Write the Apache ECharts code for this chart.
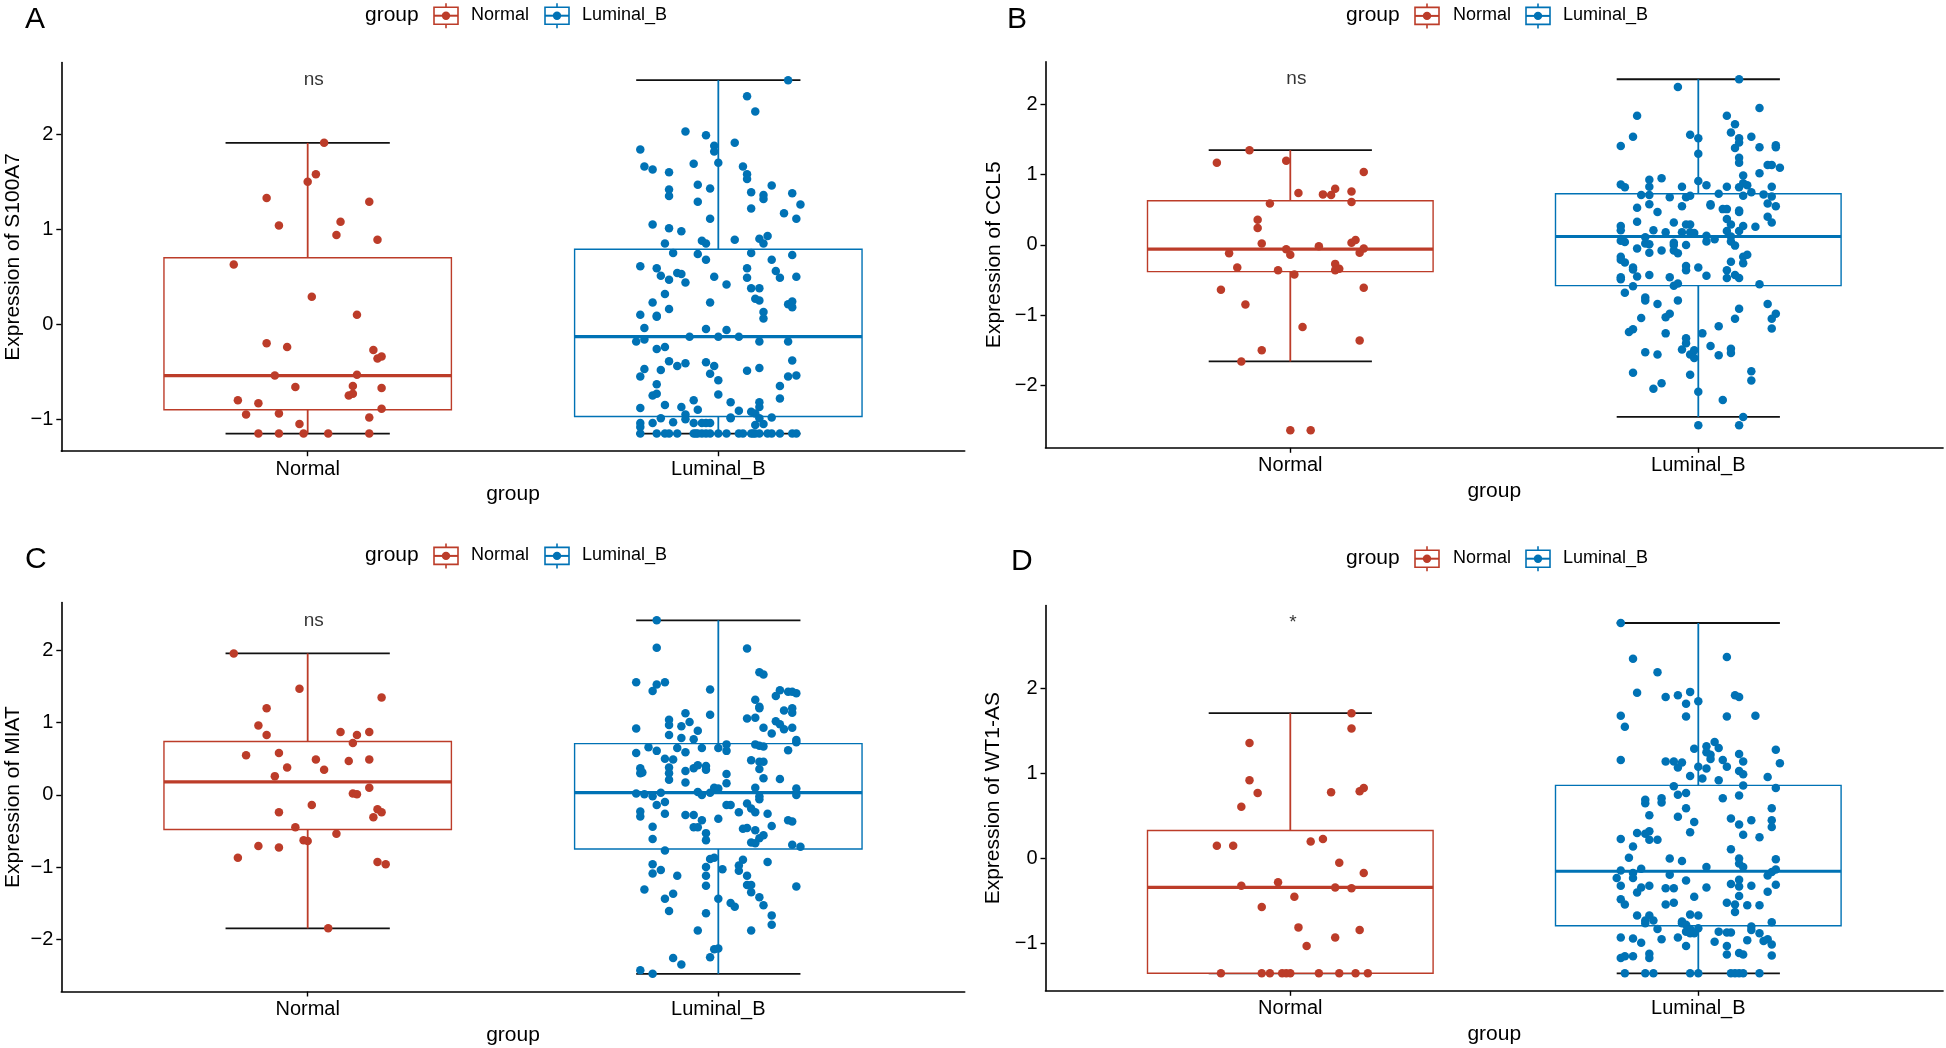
<!DOCTYPE html>
<html>
<head>
<meta charset="utf-8">
<script src="https://cdn.jsdelivr.net/npm/echarts@6/dist/echarts.min.js"></script>
<style>
html,body{margin:0;padding:0;background:#fff;}
#chart{width:1946px;height:1048px;}
</style>
</head>
<body>
<div id="chart"></div>
<script>
// ---------------- DATA ----------------
const groups = ['Normal', 'Luminal_B'];
const groupColors = ['#BC3C29', '#0072B5'];

// box stats: [lower whisker, Q1, median, Q3, upper whisker]
const s100a7BoxNormal = [-1.15, -0.90, -0.54, 0.70, 1.91];
const s100a7BoxLuminal = [-1.15, -0.97, -0.13, 0.79, 2.57];
const ccl5BoxNormal = [-1.66, -0.38, -0.06, 0.63, 1.35];
const ccl5BoxLuminal = [-2.45, -0.58, 0.12, 0.73, 2.36];
const miatBoxNormal = [-1.85, -0.48, 0.18, 0.74, 1.96];
const miatBoxLuminal = [-2.48, -0.75, 0.03, 0.71, 2.42];
const wt1asBoxNormal = [-1.35, -1.35, -0.34, 0.33, 1.71];
const wt1asBoxLuminal = [-1.35, -0.79, -0.15, 0.86, 2.77];

// jittered points: [jitter offset from group position, expression]
const s100a7Normal = [[0.04,1.91],[0.02,1.58],[0.00,1.50],[-0.10,1.33],[0.15,1.29],[-0.07,1.04],[0.08,1.08],[0.07,0.94],[0.17,0.89],[-0.18,0.63],[0.01,0.29],[0.12,0.10],[-0.10,-0.20],[-0.05,-0.24],[0.16,-0.27],[0.17,-0.36],[0.18,-0.34],[-0.08,-0.54],[0.12,-0.53],[-0.03,-0.66],[0.11,-0.65],[0.18,-0.67],[0.10,-0.75],[0.11,-0.73],[-0.17,-0.80],[-0.12,-0.83],[-0.15,-0.95],[-0.07,-0.94],[0.18,-0.89],[0.15,-0.98],[-0.02,-1.05],[-0.12,-1.15],[-0.07,-1.15],[-0.01,-1.15],[0.05,-1.15],[0.15,-1.15]];
const s100a7Luminal = [[0.17,2.57],[0.07,2.40],[0.09,2.24],[-0.08,2.03],[-0.03,1.99],[0.04,1.91],[-0.01,1.88],[-0.01,1.82],[-0.19,1.84],[0.00,1.70],[-0.06,1.69],[-0.18,1.66],[-0.16,1.63],[0.06,1.66],[-0.12,1.60],[0.07,1.58],[0.07,1.53],[-0.05,1.47],[-0.02,1.43],[0.13,1.46],[-0.12,1.42],[-0.12,1.35],[0.08,1.39],[0.11,1.36],[0.11,1.32],[0.18,1.38],[0.20,1.26],[-0.05,1.29],[0.08,1.22],[0.16,1.17],[0.19,1.11],[-0.02,1.11],[-0.16,1.05],[-0.12,1.01],[-0.09,0.98],[0.04,0.89],[0.10,0.90],[0.12,0.93],[0.11,0.85],[-0.13,0.85],[-0.04,0.88],[-0.03,0.85],[-0.11,0.75],[-0.05,0.74],[0.08,0.75],[0.18,0.73],[-0.03,0.68],[0.13,0.68],[-0.19,0.61],[-0.15,0.59],[-0.14,0.51],[-0.10,0.54],[-0.09,0.53],[-0.12,0.47],[-0.08,0.44],[0.07,0.59],[0.07,0.49],[0.14,0.56],[0.15,0.49],[0.19,0.50],[-0.01,0.50],[0.02,0.42],[0.08,0.38],[0.10,0.38],[-0.13,0.32],[0.09,0.27],[0.10,0.25],[-0.16,0.23],[-0.02,0.23],[0.17,0.21],[0.18,0.24],[0.18,0.18],[-0.19,0.10],[-0.15,0.08],[-0.15,0.09],[-0.12,0.16],[0.11,0.13],[0.11,0.06],[-0.18,-0.04],[-0.03,-0.05],[0.02,-0.06],[-0.20,-0.18],[-0.18,-0.16],[-0.07,-0.13],[0.00,-0.13],[0.05,-0.13],[0.10,-0.18],[0.17,-0.18],[-0.15,-0.26],[-0.13,-0.24],[-0.12,-0.39],[-0.08,-0.41],[-0.10,-0.44],[-0.18,-0.47],[-0.14,-0.48],[-0.03,-0.40],[-0.01,-0.44],[-0.02,-0.52],[0.07,-0.49],[0.10,-0.46],[0.18,-0.38],[-0.19,-0.55],[-0.15,-0.63],[0.00,-0.59],[0.17,-0.55],[0.19,-0.54],[0.15,-0.65],[-0.16,-0.75],[-0.15,-0.73],[0.00,-0.74],[0.15,-0.78],[-0.06,-0.80],[0.03,-0.82],[-0.13,-0.85],[0.10,-0.82],[0.10,-0.87],[-0.19,-0.88],[-0.09,-0.87],[-0.05,-0.90],[0.05,-0.91],[0.08,-0.92],[-0.08,-0.95],[-0.08,-1.00],[-0.14,-0.99],[0.03,-0.98],[0.03,-0.99],[0.09,-0.94],[0.10,-0.99],[0.13,-0.98],[-0.16,-1.04],[-0.11,-1.03],[-0.06,-1.04],[-0.04,-1.04],[-0.03,-1.04],[-0.02,-1.04],[-0.19,-1.04],[-0.19,-1.08],[0.09,-1.06],[0.11,-1.05],[-0.19,-1.15],[-0.15,-1.15],[-0.13,-1.15],[-0.12,-1.15],[-0.10,-1.15],[-0.06,-1.15],[-0.055,-1.15],[-0.05,-1.15],[-0.04,-1.15],[-0.03,-1.15],[-0.02,-1.15],[0.00,-1.15],[0.02,-1.15],[0.05,-1.15],[0.06,-1.15],[0.08,-1.15],[0.085,-1.15],[0.09,-1.15],[0.10,-1.15],[0.12,-1.15],[0.13,-1.15],[0.15,-1.15],[0.18,-1.15],[0.19,-1.15]];

const ccl5Normal = [[-0.10,1.35],[-0.18,1.17],[-0.01,1.20],[0.18,1.04],[0.02,0.74],[0.11,0.80],[0.08,0.72],[0.10,0.71],[0.15,0.76],[-0.05,0.59],[0.15,0.61],[-0.08,0.36],[-0.08,0.24],[-0.07,0.02],[-0.01,-0.06],[0.00,-0.14],[0.07,-0.02],[0.15,0.03],[0.16,0.07],[0.17,-0.11],[0.18,-0.05],[-0.15,-0.12],[-0.13,-0.32],[-0.03,-0.36],[0.01,-0.42],[0.11,-0.27],[0.11,-0.36],[0.12,-0.34],[-0.17,-0.64],[0.18,-0.61],[-0.11,-0.85],[0.03,-1.17],[0.17,-1.36],[-0.07,-1.50],[-0.12,-1.66],[0.00,-2.64],[0.05,-2.64]];
const ccl5Luminal = [[0.10,2.36],[-0.05,2.25],[-0.15,1.84],[0.15,1.95],[0.07,1.84],[0.09,1.72],[0.08,1.60],[-0.16,1.54],[-0.19,1.41],[-0.02,1.57],[0.00,1.52],[0.00,1.30],[0.10,1.52],[0.10,1.46],[0.13,1.54],[0.09,1.38],[0.15,1.39],[0.19,1.42],[0.19,1.39],[0.10,1.24],[0.10,1.17],[0.17,1.14],[0.18,1.14],[0.20,1.10],[0.11,0.99],[0.15,1.02],[-0.12,0.93],[-0.09,0.95],[0.00,0.91],[0.02,0.85],[-0.04,0.83],[-0.19,0.86],[-0.18,0.82],[-0.12,0.83],[0.07,0.83],[0.10,0.82],[0.11,0.88],[0.12,0.85],[0.18,0.83],[-0.14,0.71],[-0.12,0.71],[-0.07,0.68],[-0.03,0.68],[-0.02,0.70],[0.05,0.73],[0.11,0.70],[0.13,0.75],[0.16,0.72],[0.18,0.69],[-0.15,0.53],[-0.12,0.58],[-0.10,0.47],[-0.04,0.55],[0.03,0.56],[0.03,0.58],[0.06,0.51],[0.07,0.51],[0.10,0.47],[0.10,0.49],[0.07,0.37],[0.17,0.59],[0.19,0.55],[0.17,0.40],[0.18,0.32],[-0.15,0.33],[-0.06,0.32],[-0.03,0.29],[-0.02,0.29],[-0.19,0.27],[-0.19,0.21],[-0.11,0.21],[-0.08,0.18],[-0.04,0.18],[-0.02,0.18],[-0.01,0.17],[0.07,0.20],[0.08,0.29],[0.10,0.20],[0.11,0.27],[0.14,0.26],[-0.19,0.06],[-0.18,0.04],[-0.13,0.11],[-0.13,0.02],[-0.12,0.01],[-0.06,0.03],[-0.06,0.00],[-0.03,0.00],[0.02,0.13],[0.02,0.05],[0.04,0.08],[0.08,0.12],[0.08,0.05],[0.09,-0.01],[-0.15,-0.05],[-0.12,-0.11],[-0.09,-0.08],[-0.06,-0.08],[-0.05,-0.12],[-0.19,-0.17],[-0.19,-0.21],[-0.18,-0.25],[0.11,-0.17],[0.12,-0.14],[0.11,-0.26],[-0.16,-0.32],[-0.16,-0.35],[-0.03,-0.30],[-0.03,-0.36],[0.00,-0.32],[0.08,-0.24],[0.07,-0.36],[-0.12,-0.43],[-0.15,-0.45],[-0.19,-0.46],[-0.19,-0.49],[-0.07,-0.46],[0.02,-0.44],[0.07,-0.47],[0.09,-0.43],[0.10,-0.47],[0.15,-0.56],[-0.16,-0.59],[-0.06,-0.58],[-0.05,-0.55],[-0.18,-0.68],[-0.13,-0.75],[-0.13,-0.79],[-0.10,-0.84],[-0.05,-0.79],[0.17,-0.84],[0.10,-0.91],[0.19,-0.98],[0.18,-1.05],[-0.14,-1.04],[-0.08,-1.03],[-0.07,-0.98],[0.09,-1.05],[0.05,-1.16],[0.18,-1.19],[-0.16,-1.20],[-0.17,-1.24],[-0.08,-1.26],[0.01,-1.26],[-0.03,-1.33],[-0.03,-1.40],[-0.04,-1.49],[-0.01,-1.50],[-0.02,-1.56],[-0.01,-1.61],[0.03,-1.44],[0.05,-1.57],[0.08,-1.48],[0.08,-1.54],[-0.13,-1.53],[-0.10,-1.56],[-0.16,-1.82],[-0.02,-1.85],[0.13,-1.80],[0.13,-1.93],[-0.09,-1.97],[-0.11,-2.05],[0.00,-2.09],[0.06,-2.21],[0.11,-2.45],[0.00,-2.57],[0.10,-2.57]];

const miatNormal = [[-0.18,1.96],[-0.02,1.47],[0.18,1.35],[-0.10,1.20],[-0.12,0.96],[-0.10,0.83],[0.08,0.87],[0.12,0.83],[0.15,0.87],[0.11,0.72],[-0.15,0.55],[-0.07,0.58],[0.02,0.49],[0.10,0.47],[0.15,0.49],[-0.05,0.38],[0.04,0.35],[-0.08,0.26],[0.15,0.10],[0.11,0.02],[0.12,0.01],[0.01,-0.14],[-0.07,-0.24],[0.17,-0.20],[0.18,-0.24],[0.16,-0.31],[-0.03,-0.45],[0.07,-0.54],[-0.01,-0.63],[0.00,-0.64],[-0.12,-0.71],[-0.07,-0.73],[-0.17,-0.87],[0.17,-0.93],[0.19,-0.96],[0.05,-1.85]];
const miatLuminal = [[-0.15,2.42],[-0.15,2.04],[0.07,2.03],[-0.20,1.56],[-0.15,1.53],[-0.13,1.56],[-0.16,1.44],[-0.02,1.46],[0.10,1.70],[0.11,1.67],[0.15,1.45],[0.14,1.37],[0.17,1.43],[0.18,1.43],[0.19,1.41],[0.09,1.32],[0.10,1.22],[0.10,1.20],[0.16,1.17],[0.18,1.20],[0.18,1.14],[-0.02,1.11],[-0.08,1.13],[-0.12,1.04],[-0.12,0.97],[-0.09,0.95],[-0.07,1.01],[0.07,1.06],[0.09,1.07],[0.14,1.02],[0.15,0.98],[0.16,0.91],[0.18,0.93],[-0.20,0.92],[0.11,0.93],[0.13,0.85],[-0.12,0.83],[-0.05,0.89],[-0.09,0.79],[-0.06,0.77],[0.19,0.76],[0.19,0.73],[-0.17,0.66],[-0.15,0.61],[-0.10,0.65],[-0.04,0.65],[0.00,0.65],[0.02,0.70],[0.02,0.61],[0.09,0.70],[0.10,0.68],[0.11,0.67],[-0.08,0.59],[0.17,0.62],[-0.20,0.58],[-0.13,0.50],[-0.11,0.49],[0.08,0.48],[0.10,0.46],[0.11,0.46],[-0.19,0.37],[-0.19,0.30],[-0.185,0.31],[-0.12,0.38],[-0.12,0.30],[-0.08,0.33],[-0.06,0.37],[-0.05,0.41],[-0.03,0.40],[-0.03,0.35],[0.02,0.29],[0.10,0.36],[0.11,0.23],[0.15,0.22],[-0.12,0.21],[-0.08,0.17],[0.02,0.16],[-0.01,0.10],[0.00,0.09],[-0.02,0.03],[0.09,0.10],[-0.20,0.02],[-0.18,0.01],[-0.16,-0.02],[-0.14,0.03],[-0.05,0.04],[-0.04,0.00],[0.19,0.09],[0.19,0.00],[0.10,-0.06],[0.10,-0.02],[-0.13,-0.10],[-0.15,-0.14],[-0.13,-0.26],[0.02,-0.14],[0.03,-0.14],[0.07,-0.12],[0.08,-0.19],[0.09,-0.24],[0.05,-0.24],[0.12,-0.26],[-0.19,-0.23],[-0.19,-0.30],[-0.08,-0.28],[-0.06,-0.28],[-0.04,-0.35],[0.00,-0.33],[0.17,-0.35],[0.18,-0.37],[-0.16,-0.44],[-0.06,-0.45],[-0.05,-0.45],[0.06,-0.47],[0.07,-0.46],[0.09,-0.49],[0.13,-0.43],[-0.03,-0.53],[-0.16,-0.61],[-0.03,-0.63],[0.08,-0.66],[0.09,-0.67],[0.10,-0.60],[0.11,-0.56],[0.18,-0.69],[0.20,-0.72],[-0.13,-0.77],[-0.02,-0.89],[-0.01,-0.87],[0.06,-0.90],[0.12,-0.93],[-0.16,-0.96],[-0.16,-1.09],[-0.14,-1.04],[-0.10,-1.12],[-0.03,-1.00],[-0.03,-1.12],[0.01,-1.03],[0.05,-0.98],[0.05,-1.05],[0.07,-1.12],[-0.03,-1.26],[0.07,-1.25],[0.08,-1.25],[0.08,-1.35],[0.19,-1.27],[-0.18,-1.31],[-0.13,-1.44],[-0.11,-1.37],[0.00,-1.44],[0.03,-1.50],[0.04,-1.55],[0.10,-1.42],[0.11,-1.53],[-0.12,-1.61],[-0.03,-1.64],[0.13,-1.67],[0.13,-1.80],[-0.05,-1.88],[0.08,-1.88],[-0.01,-2.14],[0.00,-2.13],[-0.02,-2.25],[-0.11,-2.26],[-0.09,-2.35],[-0.19,-2.43],[-0.16,-2.48]];

const wt1asNormal = [[0.15,1.71],[0.15,1.53],[-0.10,1.36],[-0.10,0.92],[-0.08,0.77],[-0.12,0.61],[0.10,0.78],[0.17,0.79],[0.18,0.83],[-0.18,0.15],[-0.14,0.15],[0.05,0.20],[0.08,0.23],[0.12,-0.05],[0.18,-0.17],[-0.12,-0.32],[-0.03,-0.28],[0.11,-0.34],[0.15,-0.35],[0.01,-0.45],[-0.07,-0.57],[0.02,-0.81],[0.17,-0.84],[0.11,-0.93],[0.04,-1.03],[-0.17,-1.35],[-0.07,-1.35],[-0.05,-1.35],[-0.02,-1.35],[-0.01,-1.35],[0.00,-1.35],[0.07,-1.35],[0.12,-1.35],[0.16,-1.35],[0.19,-1.35]];
const wt1asLuminal = [[-0.19,2.77],[-0.16,2.35],[0.07,2.37],[-0.10,2.19],[-0.15,1.95],[-0.08,1.90],[-0.05,1.92],[-0.02,1.96],[-0.03,1.82],[0.00,1.85],[0.09,1.92],[0.10,1.90],[-0.19,1.68],[-0.18,1.55],[-0.03,1.67],[0.07,1.67],[0.14,1.68],[-0.01,1.29],[0.02,1.32],[0.02,1.25],[0.03,1.22],[0.04,1.37],[0.05,1.30],[0.03,1.17],[0.06,1.16],[0.10,1.23],[0.11,1.14],[0.19,1.28],[0.20,1.12],[-0.19,1.16],[-0.08,1.14],[-0.06,1.14],[-0.04,1.13],[-0.05,1.07],[0.00,1.08],[0.02,1.06],[0.07,1.08],[0.10,1.03],[0.11,0.99],[-0.02,0.97],[0.01,0.94],[0.05,0.92],[0.17,0.96],[0.11,0.86],[0.19,0.83],[-0.06,0.85],[-0.05,0.75],[-0.03,0.77],[0.10,0.74],[0.06,0.71],[-0.13,0.69],[-0.13,0.65],[-0.09,0.71],[-0.09,0.66],[-0.12,0.51],[-0.03,0.59],[-0.05,0.49],[-0.01,0.43],[0.08,0.47],[0.10,0.40],[0.13,0.45],[0.18,0.59],[0.18,0.45],[0.18,0.37],[-0.12,0.32],[-0.13,0.29],[-0.12,0.22],[-0.10,0.22],[-0.15,0.30],[-0.19,0.23],[-0.02,0.31],[0.11,0.28],[0.15,0.25],[-0.16,0.14],[0.08,0.11],[-0.17,0.01],[-0.07,0.00],[-0.04,-0.03],[0.10,0.00],[0.10,-0.06],[0.11,-0.10],[0.19,-0.01],[0.02,-0.10],[-0.19,-0.14],[-0.14,-0.12],[-0.16,-0.17],[-0.16,-0.23],[-0.20,-0.23],[-0.19,-0.32],[-0.07,-0.19],[-0.03,-0.26],[0.10,-0.25],[0.08,-0.30],[0.10,-0.33],[0.17,-0.20],[0.18,-0.16],[0.19,-0.13],[0.19,-0.31],[-0.12,-0.32],[-0.14,-0.34],[-0.15,-0.40],[-0.08,-0.35],[-0.06,-0.35],[0.02,-0.34],[0.13,-0.32],[0.17,-0.39],[0.10,-0.44],[-0.19,-0.48],[-0.18,-0.54],[-0.08,-0.54],[-0.06,-0.52],[-0.01,-0.45],[0.07,-0.52],[0.09,-0.54],[0.09,-0.63],[0.12,-0.55],[0.15,-0.55],[-0.15,-0.67],[-0.12,-0.67],[-0.13,-0.73],[-0.11,-0.73],[-0.02,-0.66],[0.00,-0.67],[-0.04,-0.74],[-0.04,-0.76],[-0.03,-0.78],[-0.13,-0.76],[-0.10,-0.83],[-0.03,-0.86],[-0.02,-0.83],[-0.02,-0.88],[0.00,-0.82],[-0.01,-0.88],[0.05,-0.86],[0.07,-0.87],[0.08,-0.87],[0.13,-0.80],[0.13,-0.84],[0.18,-0.75],[0.15,-0.88],[0.16,-0.97],[0.17,-0.95],[0.18,-1.01],[-0.19,-0.93],[-0.16,-0.94],[-0.14,-0.99],[-0.09,-0.95],[-0.05,-0.93],[0.04,-0.98],[0.07,-1.03],[0.12,-0.96],[-0.03,-1.03],[0.07,-1.13],[0.10,-1.11],[0.11,-1.13],[0.18,-1.14],[-0.19,-1.17],[-0.18,-1.15],[-0.16,-1.15],[-0.12,-1.12],[-0.12,-1.17],[-0.18,-1.35],[-0.13,-1.35],[-0.11,-1.35],[-0.02,-1.35],[0.00,-1.35],[0.08,-1.35],[0.09,-1.35],[0.10,-1.35],[0.11,-1.35],[0.15,-1.35]];

const s100a7Ticks = [-1, 0, 1, 2];
const ccl5Ticks = [-2, -1, 0, 1, 2];
const miatTicks = [-2, -1, 0, 1, 2];
const wt1asTicks = [-1, 0, 1, 2];

const panelLetters = ['A', 'B', 'C', 'D'];
const yTitles = ['Expression of S100A7', 'Expression of CCL5', 'Expression of MIAT', 'Expression of WT1-AS'];
const sigLabels = ['ns', 'ns', 'ns', '*'];
const xTitle = 'group';
const legendTitle = 'group';

// ---------------- LAYOUT / STYLE ----------------
const FONT = "'Liberation Sans', Arial, Helvetica, sans-serif";
const panels = [
  {grid:{left:61.3, top:62.5, width:903.4, height:388.7}, ticks:s100a7Ticks, pts:[s100a7Normal, s100a7Luminal], box:[s100a7BoxNormal, s100a7BoxLuminal], nameGap:38,
   letter:[36, 20.5], legY:15.7, legX:{title:365, k1:446, t1:471, k2:557, t2:582}, sigOffset:[-4,0]},
  {grid:{left:1045.5, top:61.7, width:897.6, height:386.1}, ticks:ccl5Ticks, pts:[ccl5Normal, ccl5Luminal], box:[ccl5BoxNormal, ccl5BoxLuminal], nameGap:41,
   letter:[1018, 20.8], legY:15.9, legX:{title:1346, k1:1427, t1:1453, k2:1538, t2:1563}, sigOffset:[-4,0]},
  {grid:{left:61.3, top:602.6, width:903.4, height:388.9}, ticks:miatTicks, pts:[miatNormal, miatLuminal], box:[miatBoxNormal, miatBoxLuminal], nameGap:38,
   letter:[36, 561], legY:555.9, legX:{title:365, k1:446, t1:471, k2:557, t2:582}, sigOffset:[-4,0]},
  {grid:{left:1045.5, top:605.5, width:897.6, height:385.3}, ticks:wt1asTicks, pts:[wt1asNormal, wt1asLuminal], box:[wt1asBoxNormal, wt1asBoxLuminal], nameGap:42,
   letter:[1022, 563], legY:558.7, legX:{title:1346, k1:1427, t1:1453, k2:1538, t2:1563}, sigOffset:[-1,0]}
];

const minus = v => String(v).replace('-', '\u2212');

function renderBox(params, api) {
  const gx = api.value(0);
  const cx = api.coord([gx, 0])[0];
  const yLow = api.coord([gx, api.value(1)])[1];
  const yQ1 = api.coord([gx, api.value(2)])[1];
  const yMed = api.coord([gx, api.value(3)])[1];
  const yQ3 = api.coord([gx, api.value(4)])[1];
  const yHigh = api.coord([gx, api.value(5)])[1];
  const half = api.size([0.35, 0])[0];
  const capHalf = api.size([0.2, 0])[0];
  const color = groupColors[params.dataIndex];
  return {type:'group', children:[
    {type:'line', shape:{x1:cx-capHalf, y1:yHigh, x2:cx+capHalf, y2:yHigh}, style:{stroke:'#111', lineWidth:1.8}},
    {type:'line', shape:{x1:cx-capHalf, y1:yLow, x2:cx+capHalf, y2:yLow}, style:{stroke:'#111', lineWidth:1.8}},
    {type:'line', shape:{x1:cx, y1:yHigh, x2:cx, y2:yQ3}, style:{stroke:color, lineWidth:1.8}},
    {type:'line', shape:{x1:cx, y1:yQ1, x2:cx, y2:yLow}, style:{stroke:color, lineWidth:1.8}},
    {type:'rect', shape:{x:cx-half, y:yQ3, width:2*half, height:yQ1-yQ3}, style:{fill:'#fff', stroke:color, lineWidth:1.4}},
    {type:'line', shape:{x1:cx-half, y1:yMed, x2:cx+half, y2:yMed}, style:{stroke:color, lineWidth:3.2}}
  ]};
}

const option = {backgroundColor:'#fff', animation:false, grid:[], xAxis:[], yAxis:[], series:[], graphic:[]};

panels.forEach((p, i) => {
  const allVals = [].concat(p.pts[0].map(d=>d[1]), p.pts[1].map(d=>d[1]), p.box[0], p.box[1]);
  const lo = Math.min(...allVals), hi = Math.max(...allVals);
  const pad = 0.05 * (hi - lo);
  option.grid.push(Object.assign({containLabel:false}, p.grid));
  option.xAxis.push({
    type:'value', gridIndex:i, min:0.4, max:2.6,
    splitLine:{show:false},
    axisLine:{show:true, onZero:false, lineStyle:{color:'#000', width:1.6}},
    axisTick:{show:true, length:5, customValues:[1,2], lineStyle:{color:'#000', width:1.4}},
    axisLabel:{customValues:[1,2], formatter:v => groups[Math.round(v)-1], fontSize:20, color:'#000', fontFamily:FONT, margin:8},
    name:xTitle, nameLocation:'middle', nameGap:33,
    nameTextStyle:{fontSize:21, color:'#000', fontFamily:FONT}
  });
  option.yAxis.push({
    type:'value', gridIndex:i, min:lo - pad, max:hi + pad,
    splitLine:{show:false},
    axisLine:{show:true, onZero:false, lineStyle:{color:'#000', width:1.6}},
    axisTick:{show:true, length:5, customValues:p.ticks, lineStyle:{color:'#000', width:1.4}},
    axisLabel:{customValues:p.ticks, formatter:minus, fontSize:20, color:'#000', fontFamily:FONT, margin:8},
    name:yTitles[i], nameLocation:'middle', nameGap:p.nameGap, nameRotate:90,
    nameTextStyle:{fontSize:21, color:'#000', fontFamily:FONT}
  });
  // boxes
  option.series.push({
    type:'custom', xAxisIndex:i, yAxisIndex:i, renderItem:renderBox, silent:true, z:2,
    encode:{x:0, y:[1,2,3,4,5]},
    data:p.box.map((b, g) => [g+1].concat(b))
  });
  // jittered points
  p.pts.forEach((arr, g) => {
    option.series.push({
      type:'scatter', name:groups[g], xAxisIndex:i, yAxisIndex:i, z:3, silent:true,
      symbol:'circle', symbolSize:8.5,
      itemStyle:{color:groupColors[g], opacity:1},
      data:arr.map(d => [g + 1 + d[0], d[1]])
    });
  });
  // significance label placed at the data maximum above group 1
  option.series.push({
    type:'scatter', xAxisIndex:i, yAxisIndex:i, z:4, silent:true,
    symbolSize:0.1, itemStyle:{color:'rgba(0,0,0,0)'},
    label:{show:true, position:'right', distance:0, offset:p.sigOffset, formatter:sigLabels[i], fontSize:19, color:'#000', fontFamily:FONT},
    data:[[1, hi]]
  });
  // panel letter
  option.graphic.push({type:'text', left:p.letter[0]-11, top:p.letter[1]-16, style:{text:panelLetters[i], fontSize:30, fill:'#000', fontFamily:FONT}});
  // legend
  const y = p.legY, L = p.legX;
  option.graphic.push({type:'text', left:L.title, top:y-11, style:{text:legendTitle, fontSize:21, fill:'#000', fontFamily:FONT}});
  [[L.k1, L.t1, 0], [L.k2, L.t2, 1]].forEach(([kx, tx, g]) => {
    const c = groupColors[g];
    option.graphic.push({type:'group', children:[
      {type:'line', shape:{x1:kx, y1:y-12.5, x2:kx, y2:y+12.5}, style:{stroke:c, lineWidth:1.6}},
      {type:'rect', shape:{x:kx-12, y:y-8.5, width:24, height:17}, style:{fill:'#fff', stroke:c, lineWidth:1.6}},
      {type:'line', shape:{x1:kx-12, y1:y, x2:kx+12, y2:y}, style:{stroke:c, lineWidth:2}},
      {type:'circle', shape:{cx:kx, cy:y, r:4.2}, style:{fill:c}}
    ]});
    option.graphic.push({type:'text', left:tx, top:y-9.5, style:{text:groups[g], fontSize:18, fill:'#000', fontFamily:FONT}});
  });
});

const chart = echarts.init(document.getElementById('chart'), null, {renderer:'canvas', width:1946, height:1048});
chart.setOption(option);
</script>
</body>
</html>
